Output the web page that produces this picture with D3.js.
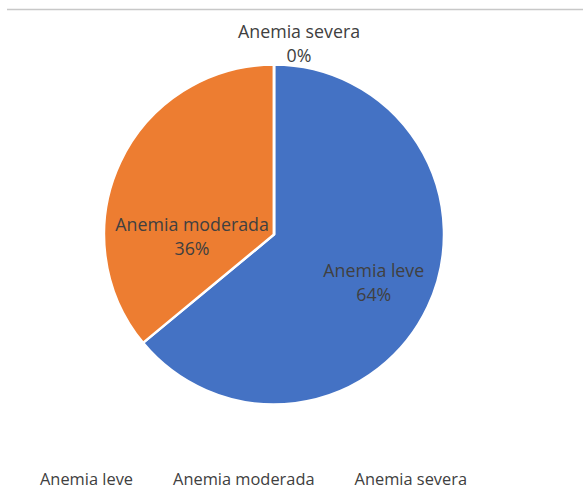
<!DOCTYPE html>
<html><head><meta charset="utf-8">
<script src="https://cdn.jsdelivr.net/npm/d3@7"></script>
<style>
html,body{margin:0;padding:0;background:#fff;}
svg{display:block;}
text{font-family:"Open Sans",sans-serif;fill:#404040;}
</style></head>
<body>
<script>
const categories = ["Anemia leve", "Anemia moderada", "Anemia severa"];
const values = [64, 36, 0];
const percentLabels = ["64%", "36%", "0%"];
const colors = ["#4472C4", "#ED7D31", "#A5A5A5"];

const W = 583, H = 503;
const cx = 274, cy = 234.5, R = 170;

const svg = d3.select("body").append("svg").attr("width", W).attr("height", H);

// top border line
svg.append("line").attr("x1", 7).attr("x2", W).attr("y1", 9.5).attr("y2", 9.5)
  .attr("stroke", "#c8c8c8").attr("stroke-width", 1.5);

const data = categories.map((c, i) => ({cat: c, value: values[i], pct: percentLabels[i], color: colors[i]}));

const pie = d3.pie().sort(null).value(d => d.value);
const arcs = pie(data);
const arc = d3.arc().innerRadius(0).outerRadius(R);

const g = svg.append("g").attr("transform", `translate(${cx},${cy})`);
g.selectAll("path").data(arcs).enter().append("path")
  .attr("d", arc)
  .attr("fill", d => d.data.color)
  .attr("stroke", "#fff").attr("stroke-width", 2.5).attr("stroke-linejoin", "miter");

// label placement (angle in degrees clockwise from top, distance from centre)
const labelPlace = [
  {ang: 116, r: 111},
  {ang: 268, r: 82},
  {ang: 7.5, r: 192}
];
arcs.forEach((a, i) => {
  const p = labelPlace[i];
  const t = p.ang * Math.PI / 180;
  const x = p.r * Math.sin(t), y = -p.r * Math.cos(t);
  const lab = g.append("text").attr("text-anchor", "middle").style("font-size", "17.8px");
  lab.append("tspan").attr("x", x).attr("y", y - 6).text(a.data.cat);
  lab.append("tspan").attr("x", x).attr("y", y + 18).text(a.data.pct);
});

// legend
const leg = svg.append("g");
let lx = 40;
categories.forEach((c, i) => {
  const t = leg.append("text").attr("x", lx).attr("y", 485).style("font-size", "16.4px").text(c);
  lx += t.node().getComputedTextLength() + 40;
});
</script>
</body></html>
